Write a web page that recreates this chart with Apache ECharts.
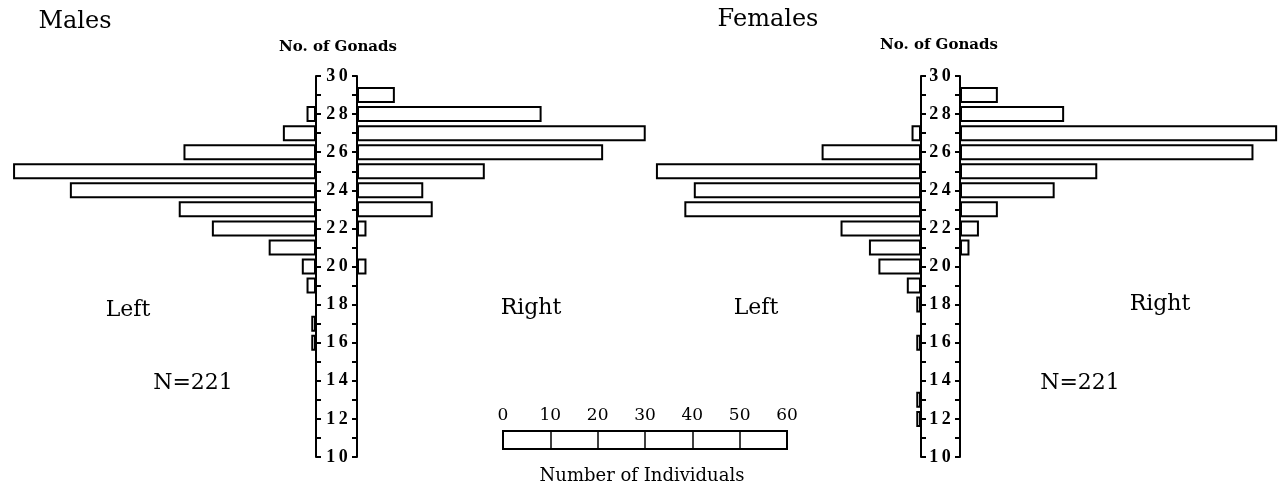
<!DOCTYPE html>
<html>
<head>
<meta charset="utf-8">
<script src="https://cdn.jsdelivr.net/npm/echarts@6/dist/echarts.min.js"></script>
<style>
  html, body { margin: 0; padding: 0; background: #fff; }
  #chart { width: 1279px; height: 487px; }
</style>
</head>
<body>
<div id="chart"></div>
<script>
// number of gonads (y categories, bottom to top)
var gonadCats = ['10','11','12','13','14','15','16','17','18','19','20','21','22','23','24','25','26','27','28','29','30'];

// number of individuals per gonad count, null = no bar
var maleLeft    = [null,null,null,null,null,null,1,1,null,2,3,10,22,29,52,64,28,7,2,null,null];
var maleRight   = [null,null,null,null,null,null,null,null,null,null,2,null,2,16,14,27,52,61,39,8,null];
var femaleLeft  = [null,null,1,1,null,null,1,null,1,3,9,11,17,50,48,56,21,2,null,null,null];
var femaleRight = [null,null,null,null,null,null,null,null,null,null,null,2,4,8,20,29,62,67,22,8,null];

var scaleTicks = [0, 10, 20, 30, 40, 50, 60];

var serif = '"DejaVu Serif", "Liberation Serif", serif';
var pxPerUnit = 284 / 60;   // same scale as the legend bar
var plotTop = 76, plotHeight = 381;

var panels = [
    { left: 0,   width: 316, side: 'left',  data: maleLeft },
    { left: 357, width: 320, side: 'right', data: maleRight },
    { left: 621, width: 300, side: 'left',  data: femaleLeft },
    { left: 960, width: 319, side: 'right', data: femaleRight }
];

var grids = [], xAxes = [], yAxes = [], series = [];

panels.forEach(function (p, i) {
    grids.push({ left: p.left, top: plotTop, width: p.width, height: plotHeight });
    xAxes.push({
        gridIndex: i, type: 'value', min: 0, max: p.width / pxPerUnit,
        inverse: p.side === 'left', show: false
    });
    yAxes.push({
        gridIndex: i, type: 'category', data: gonadCats, boundaryGap: false,
        position: p.side === 'left' ? 'right' : 'left',
        axisLine: { show: true, lineStyle: { color: '#000', width: 2 } },
        axisTick: { show: true, interval: 0, length: 5, lineStyle: { color: '#000', width: 2 } },
        axisLabel: {
            show: p.side === 'right', interval: 1, margin: 20, align: 'center',
            color: '#000', fontFamily: '"Liberation Serif", serif', fontWeight: 'bold', fontSize: 18,
            formatter: function (v) { return v.split('').join('\u2009'); }
        },
        splitLine: { show: false }
    });
    series.push({
        type: 'bar', xAxisIndex: i, yAxisIndex: i, data: p.data,
        barWidth: 16, silent: true,
        itemStyle: { color: '#fff', borderColor: '#000', borderWidth: 2 }
    });
});

// legend scale bar: 0..60 boxes
grids.push({ left: 503, top: 431, width: 284, height: 18, show: true, borderColor: '#000', borderWidth: 2, backgroundColor: 'transparent' });
xAxes.push({
    gridIndex: 4, type: 'value', min: scaleTicks[0], max: scaleTicks[scaleTicks.length - 1],
    interval: scaleTicks[1] - scaleTicks[0], position: 'top',
    axisLine: { show: false }, axisTick: { show: false },
    axisLabel: { margin: 7, color: '#000', fontFamily: serif, fontSize: 17 },
    splitLine: { show: true, lineStyle: { color: '#000', width: 1.5 } }
});
yAxes.push({ gridIndex: 4, type: 'value', show: false });

function txt(s, x, y, size, weight, align) {
    return {
        type: 'text', x: x, y: y, silent: true,
        style: {
            text: s, fill: '#000', font: (weight || 'normal') + ' ' + size + 'px ' + serif,
            textAlign: align || 'center', textVerticalAlign: 'middle'
        }
    };
}

var chart = echarts.init(document.getElementById('chart'));
chart.setOption({
    animation: false,
    backgroundColor: '#fff',
    grid: grids,
    xAxis: xAxes,
    yAxis: yAxes,
    series: series,
    graphic: [
        txt('Males', 75, 22, 24),
        txt('Females', 768, 20, 24),
        txt('No. of Gonads', 338, 47, 15, 'bold'),
        txt('No. of Gonads', 939, 45, 15, 'bold'),
        txt('Left', 128, 310, 22),
        txt('Right', 531, 308, 22),
        txt('N=221', 193, 383, 22),
        txt('Left', 756, 308, 22),
        txt('Right', 1160, 304, 22),
        txt('N=221', 1080, 383, 22),
        txt('Number of Individuals', 642, 476, 18)
    ]
});
</script>
</body>
</html>
